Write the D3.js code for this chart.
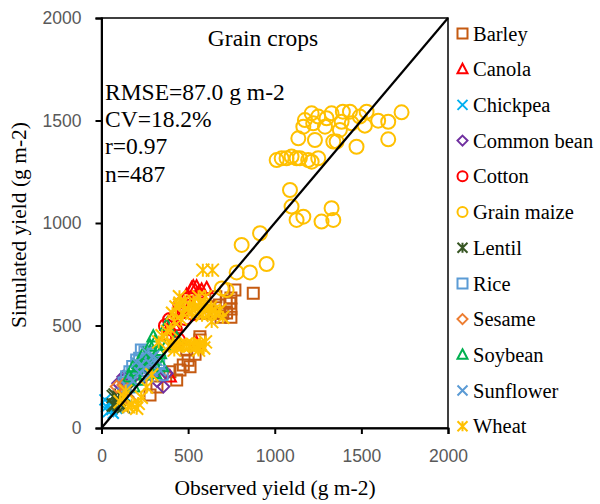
<!DOCTYPE html>
<html>
<head>
<meta charset="utf-8">
<script src="https://cdn.jsdelivr.net/npm/d3@7"></script>
<style>
  body { margin: 0; background: #fff; }
  svg { display: block; }
</style>
</head>
<body>
<svg width="600" height="504"></svg>
<script>
// observed vs simulated yield, g m-2 ... [obs, sim]
const barley = [[770,673],[876,657],[747,634],[747,580],[747,540],[720,620],[700,560],[741,609],[722,561],[626,592],[680,600],[650,560],[690,540],[600,560],[660,640],[568,445],[568,429],[492,380],[472,307],[395,275],[511,299],[453,283],[434,234],[280,161],[320,200],[540,360],[500,330]];
const canola = [[520,681],[549,689],[578,673],[607,681],[491,649],[530,689],[560,660],[395,527],[405,478],[376,454],[386,486],[549,413],[395,250],[460,560],[500,620],[420,500]];
const chickpea = [[30,104],[68,72],[20,137],[49,120],[88,96],[117,112],[60,90],[100,130],[40,80],[140,150]];
const commonBean = [[126,250],[376,267],[126,234],[97,218],[357,202],[160,220],[200,260],[250,250],[320,230],[300,280]];
const cotton = [[372,498],[395,527],[441,429],[482,537],[424,478],[455,600],[530,560]];
const grainMaize = [[1732,1540],[1655,1494],[1655,1408],[1597,1499],[1530,1543],[1520,1475],[1472,1372],[1491,1519],[1434,1543],[1393,1543],[1444,1486],[1386,1494],[1357,1397],[1338,1397],[1376,1454],[1328,1535],[1299,1511],[1290,1470],[1251,1519],[1222,1486],[1232,1405],[1213,1535],[1174,1502],[1165,1470],[1136,1413],[1193,1307],[1213,1299],[1251,1316],[1145,1316],[1126,1316],[1097,1324],[1068,1316],[1040,1316],[1011,1307],[1088,1161],[1097,1080],[1126,1015],[1165,1031],[1270,1007],[1328,1072],[1338,1015],[915,950],[953,800],[809,893],[780,759],[857,759],[694,681],[722,673]];
const lentil = [[78,161],[68,112],[126,104],[68,153],[78,112],[100,140],[150,180]];
const rice = [[251,372],[203,332],[164,275],[145,250],[180,300],[220,340],[270,330],[300,290],[130,220],[190,240],[240,280],[280,360],[330,320],[160,200],[350,260],[230,380]];
const sesame = [[126,210],[164,137],[88,202],[140,180]];
const soybean = [[338,364],[299,332],[270,307],[212,315],[184,299],[376,405],[434,437],[309,267],[212,234],[222,307],[184,202],[299,445],[376,502],[250,260],[330,380],[160,250],[260,340],[200,280],[350,300],[280,400],[240,360],[310,420]];
const sunflower = [[280,315],[320,330],[250,290],[220,270],[180,230],[300,350],[340,280],[200,320],[150,200],[270,250],[260,370],[230,310]];
const wheat = [[410,560],[430,590],[450,600],[470,560],[480,620],[500,580],[510,600],[520,560],[530,620],[540,590],[560,570],[570,610],[580,550],[590,600],[600,580],[620,560],[630,590],[640,570],[660,560],[684,576],[700,540],[460,530],[420,520],[636,519],[560,640],[600,640],[450,640],[453,609],[585,770],[640,770],
  [390,400],[410,410],[430,400],[450,405],[470,400],[490,410],[510,400],[530,405],[550,400],[570,410],[590,390],[600,420],[420,380],[560,380],[568,405],
  [350,450],[380,470],[400,480],[330,420],
  [107,128],[126,153],[155,104],[174,112],[203,96],[212,120],[140,180],[230,150],[260,200],[290,260]];

const crops = ["Barley", "Canola", "Chickpea", "Common bean", "Cotton", "Grain maize", "Lentil", "Rice", "Sesame", "Soybean", "Sunflower", "Wheat"];
const cropData = [barley, canola, chickpea, commonBean, cotton, grainMaize, lentil, rice, sesame, soybean, sunflower, wheat];
const cropColors = ["#C55A11", "#FF0000", "#00B0F0", "#7030A0", "#FF0000", "#FFC000", "#375623", "#5B9BD5", "#ED7D31", "#00B050", "#5B9BD5", "#FFC000"];
const cropMarks = ["square", "triangle", "times", "diamond", "circle", "circle", "star", "square", "diamond", "triangle", "times", "star"];
const ticks = [0, 500, 1000, 1500, 2000];
const stats = ["RMSE=87.0 g m-2", "CV=18.2%", "r=0.97", "n=487"];

// custom marker shapes, size = width squared
const shapes = {
  square: { draw(c, s) { const h = Math.sqrt(s) / 2; c.rect(-h, -h, 2 * h, 2 * h); } },
  triangle: { draw(c, s) { const h = Math.sqrt(s) / 2; c.moveTo(0, -h * 1.1); c.lineTo(h, h * 0.8); c.lineTo(-h, h * 0.8); c.closePath(); } },
  diamond: { draw(c, s) { const h = Math.sqrt(s) / 2; c.moveTo(0, -h); c.lineTo(h, 0); c.lineTo(0, h); c.lineTo(-h, 0); c.closePath(); } },
  circle: { draw(c, s) { const h = Math.sqrt(s) / 2; c.moveTo(h, 0); c.arc(0, 0, h, 0, 2 * Math.PI); } },
  times: { draw(c, s) { const h = Math.sqrt(s) / 2; c.moveTo(-h, -h); c.lineTo(h, h); c.moveTo(h, -h); c.lineTo(-h, h); } },
  star: { draw(c, s) { const h = Math.sqrt(s) / 2; c.moveTo(-h, -h); c.lineTo(h, h); c.moveTo(h, -h); c.lineTo(-h, h); c.moveTo(0, -h); c.lineTo(0, h); } }
};
const plotSize = { square: 11, triangle: 12, diamond: 12, circle: 14, times: 11, star: 13 };
const legSize = { square: 10, triangle: 10, diamond: 10, circle: 10, times: 10, star: 10 };

const svg = d3.select("svg");
const serif = "'Liberation Serif', 'Times New Roman', serif";

const x = d3.scaleLinear().domain([0, 2000]).range([101.5, 448]);
const y = d3.scaleLinear().domain([0, 2000]).range([428, 18]);

// points, drawn series by series so wheat ends on top
cropData.forEach((pts, i) => {
  const sym = d3.symbol().type(shapes[cropMarks[i]]).size(plotSize[cropMarks[i]] ** 2);
  svg.append("g").selectAll("path")
    .data(pts)
    .enter()
    .append("path")
    .attr("d", sym)
    .attr("transform", d => `translate(${x(d[0])},${y(d[1])})`)
    .attr("fill", "none")
    .attr("stroke", cropColors[i])
    .attr("stroke-width", 2);
});

// 1:1 line
svg.append("line")
  .attr("x1", x(0)).attr("y1", y(0))
  .attr("x2", x(2000)).attr("y2", y(2000))
  .attr("stroke", "black")
  .attr("stroke-width", 2.2);

// frame
svg.append("rect")
  .attr("x", x(0)).attr("y", y(2000))
  .attr("width", x(2000) - x(0)).attr("height", y(0) - y(2000))
  .attr("fill", "none")
  .attr("stroke", "black")
  .attr("stroke-width", 1.5);

const xAxis = svg.append("g")
  .attr("transform", `translate(0,${y(0)})`)
  .call(d3.axisBottom(x).tickValues(ticks).tickSize(6).tickPadding(15.5).tickFormat(d3.format("d")));
const yAxis = svg.append("g")
  .attr("transform", `translate(${x(0)},0)`)
  .call(d3.axisLeft(y).tickValues(ticks).tickSize(6).tickPadding(14).tickFormat(d3.format("d")));

[xAxis, yAxis].forEach(a => {
  a.select(".domain").attr("stroke", "black").attr("stroke-width", 2);
  a.selectAll(".tick line").attr("stroke", "black").attr("stroke-width", 2);
  a.selectAll(".tick text")
    .attr("fill", "#595959")
    .attr("font-family", "'Liberation Sans', Arial, sans-serif")
    .attr("font-size", "17.5px");
});

// axis titles
svg.append("text")
  .attr("x", 275).attr("y", 495)
  .attr("text-anchor", "middle")
  .attr("font-family", serif)
  .attr("font-size", "21.5px")
  .text("Observed yield (g m-2)");

svg.append("text")
  .attr("transform", "translate(26,225) rotate(-90)")
  .attr("text-anchor", "middle")
  .attr("font-family", serif)
  .attr("font-size", "21.5px")
  .text("Simulated yield (g m-2)");

// annotations
svg.append("text")
  .attr("x", 263).attr("y", 46)
  .attr("text-anchor", "middle")
  .attr("font-family", serif)
  .attr("font-size", "23.5px")
  .text("Grain crops");

svg.append("g").selectAll("text")
  .data(stats)
  .enter()
  .append("text")
  .attr("x", 105)
  .attr("y", (d, i) => 100 + i * 27.2)
  .attr("font-family", serif)
  .attr("font-size", "23.5px")
  .text(d => d);

// legend
const legend = svg.append("g").selectAll("g")
  .data(crops)
  .enter()
  .append("g")
  .attr("transform", (d, i) => `translate(462.5,${33.5 + i * 35.7})`);

legend.append("path")
  .attr("d", (d, i) => d3.symbol().type(shapes[cropMarks[i]]).size(legSize[cropMarks[i]] ** 2)())
  .attr("fill", "none")
  .attr("stroke", (d, i) => cropColors[i])
  .attr("stroke-width", 2);

legend.append("text")
  .attr("x", 10.5)
  .attr("dy", "0.35em")
  .attr("font-family", serif)
  .attr("font-size", "20.5px")
  .text(d => d);
</script>
</body>
</html>
